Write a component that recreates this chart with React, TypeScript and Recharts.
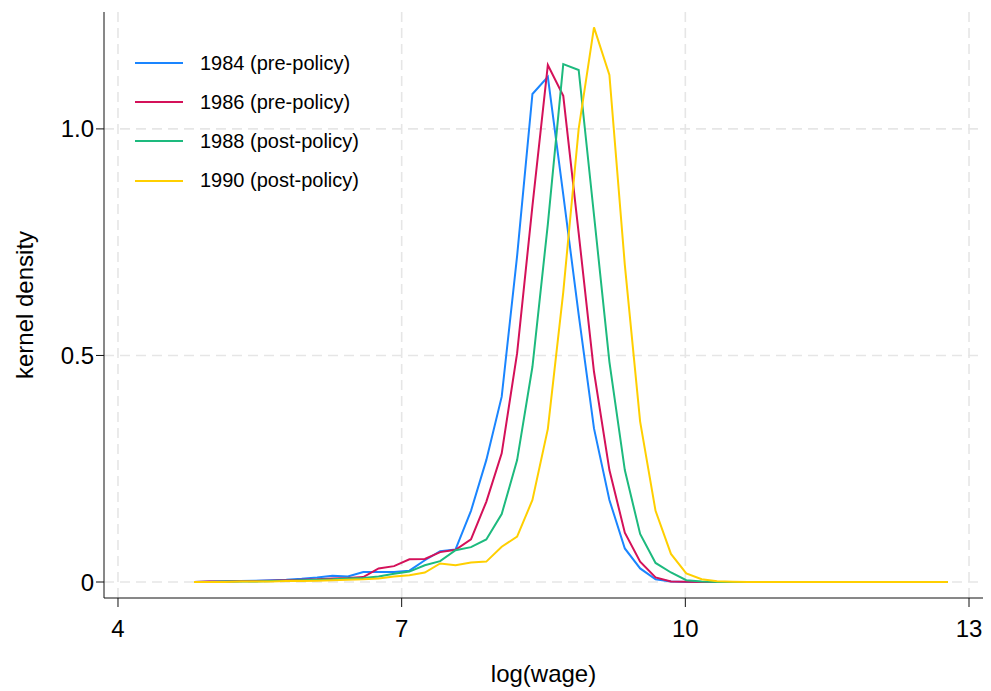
import React from 'react';
import { LineChart, Line, XAxis, YAxis, CartesianGrid, Legend } from 'recharts';

const wageGrid = [
  4.804, 4.967, 5.129, 5.292, 5.455, 5.618, 5.78, 5.943, 6.106, 6.268,
  6.431, 6.594, 6.756, 6.919, 7.082, 7.245, 7.407, 7.57, 7.733, 7.895,
  8.058, 8.221, 8.383, 8.546, 8.709, 8.872, 9.034, 9.197, 9.36, 9.522,
  9.685, 9.848, 10.01, 10.173, 10.336, 10.499, 10.661, 10.824, 10.987, 11.149,
  11.312, 11.475, 11.637, 11.8, 11.963, 12.126, 12.288, 12.451, 12.614, 12.777,
];

const density1984 = [
  0, 0.001, 0.001, 0.002, 0.003, 0.004, 0.005, 0.007, 0.01, 0.014,
  0.012, 0.022, 0.022, 0.022, 0.025, 0.048, 0.068, 0.072, 0.157, 0.269,
  0.409, 0.72, 1.077, 1.115, 0.855, 0.59, 0.339, 0.181, 0.074, 0.03,
  0.006, 0.001, 0, 0, 0, 0, 0, 0, 0, 0,
  0, 0, 0, 0, 0, 0, 0, 0, 0, 0,
];

const density1986 = [
  0, 0.001, 0.001, 0.002, 0.002, 0.003, 0.004, 0.005, 0.006, 0.008,
  0.009, 0.011, 0.03, 0.035, 0.05, 0.051, 0.066, 0.071, 0.094, 0.177,
  0.284, 0.505, 0.83, 1.141, 1.073, 0.77, 0.464, 0.247, 0.109, 0.045,
  0.01, 0.001, 0.0003, 0, 0, 0, 0, 0, 0, 0,
  0, 0, 0, 0, 0, 0, 0, 0, 0, 0,
];

const density1988 = [
  0, 0, 0.001, 0.001, 0.001, 0.002, 0.003, 0.004, 0.005, 0.006,
  0.008, 0.009, 0.012, 0.018, 0.023, 0.037, 0.046, 0.07, 0.077, 0.094,
  0.15, 0.269, 0.475, 0.79, 1.143, 1.13, 0.81, 0.486, 0.247, 0.106,
  0.042, 0.021, 0.004, 0.001, 0, 0, 0, 0, 0, 0,
  0, 0, 0, 0, 0, 0, 0, 0, 0, 0,
];

const density1990 = [
  0, 0, 0, 0.001, 0.001, 0.001, 0.002, 0.002, 0.003, 0.004,
  0.005, 0.006, 0.008, 0.012, 0.015, 0.021, 0.041, 0.037, 0.043, 0.045,
  0.078, 0.1, 0.181, 0.338, 0.64, 1.0, 1.224, 1.119, 0.7, 0.354,
  0.157, 0.062, 0.019, 0.006, 0.0015, 0.0005, 0, 0, 0, 0,
  0, 0, 0, 0, 0, 0, 0, 0, 0, 0,
];

const seriesKeys = ['d1984', 'd1986', 'd1988', 'd1990'];
const seriesNames = ['1984 (pre-policy)', '1986 (pre-policy)', '1988 (post-policy)', '1990 (post-policy)'];
const seriesColors = ['#1A85FF', '#D41159', '#1DBA7E', '#FFCF00'];
const seriesValues = [density1984, density1986, density1988, density1990];

const xTicks = [4, 7, 10, 13];
const yTicks = [0, 0.5, 1.0];
const yTickLabels = ['0', '0.5', '1.0'];

const data = wageGrid.map((x, i) => {
  const row: Record<string, number> = { x };
  seriesKeys.forEach((k, s) => {
    row[k] = seriesValues[s][i];
  });
  return row;
});

const FONT = '"Liberation Sans", Arial, Helvetica, sans-serif';

const renderLegend = () => (
  <div style={{ fontFamily: FONT, fontSize: 20, color: '#000' }}>
    {seriesNames.map((name, i) => (
      <div key={name} style={{ display: 'flex', alignItems: 'center', height: 39.2 }}>
        <svg width={48} height={4} style={{ display: 'block' }}>
          <line x1={0} y1={2} x2={48} y2={2} stroke={seriesColors[i]} strokeWidth={2} />
        </svg>
        <span style={{ marginLeft: 17, whiteSpace: 'nowrap' }}>{name}</span>
      </div>
    ))}
  </div>
);

export default function App() {
  return (
    <div style={{ position: 'absolute', left: 0, top: 0, width: 991, height: 691, background: '#fff' }}>
      <LineChart
        width={991}
        height={691}
        data={data}
        margin={{ top: 12, right: 8, bottom: 0, left: 0 }}
      >
        <CartesianGrid
          stroke="#e6e6e6"
          strokeDasharray="10 6"
          strokeWidth={1.6}
          horizontalValues={yTicks}
          verticalValues={xTicks}
        />
        <XAxis
          dataKey="x"
          type="number"
          domain={[3.852, 13.148]}
          ticks={xTicks}
          allowDataOverflow
          height={93}
          tickSize={9}
          tickMargin={13}
          stroke="#111"
          tickLine={{ stroke: '#111' }}
          tick={{ fontSize: 24, fill: '#000', fontFamily: FONT }}
          label={{ value: 'log(wage)', position: 'insideBottom', offset: 9, style: { fontSize: 24, fill: '#000', fontFamily: FONT } }}
        />
        <YAxis
          type="number"
          domain={[-0.0353, 1.258]}
          ticks={yTicks}
          allowDataOverflow
          width={104}
          tickSize={8}
          tickMargin={2}
          stroke="#111"
          tickLine={{ stroke: '#111' }}
          tickFormatter={(v: number) => yTickLabels[yTicks.indexOf(v)] ?? String(v)}
          tick={{ fontSize: 24, fill: '#000', fontFamily: FONT }}
          label={{ value: 'kernel density', angle: -90, position: 'insideLeft', offset: 24, style: { textAnchor: 'middle', fontSize: 24, fill: '#000', fontFamily: FONT } }}
        />
        <Legend
          layout="vertical"
          align="center"
          verticalAlign="middle"
          wrapperStyle={{ position: 'absolute', left: 135, top: 43.5, width: 'auto', height: 'auto' }}
          content={renderLegend}
        />
        {seriesKeys.map((k, i) => (
          <Line
            key={k}
            type="linear"
            dataKey={k}
            name={seriesNames[i]}
            stroke={seriesColors[i]}
            strokeWidth={2}
            dot={false}
            activeDot={false}
            isAnimationActive={false}
          />
        ))}
      </LineChart>
    </div>
  );
}
